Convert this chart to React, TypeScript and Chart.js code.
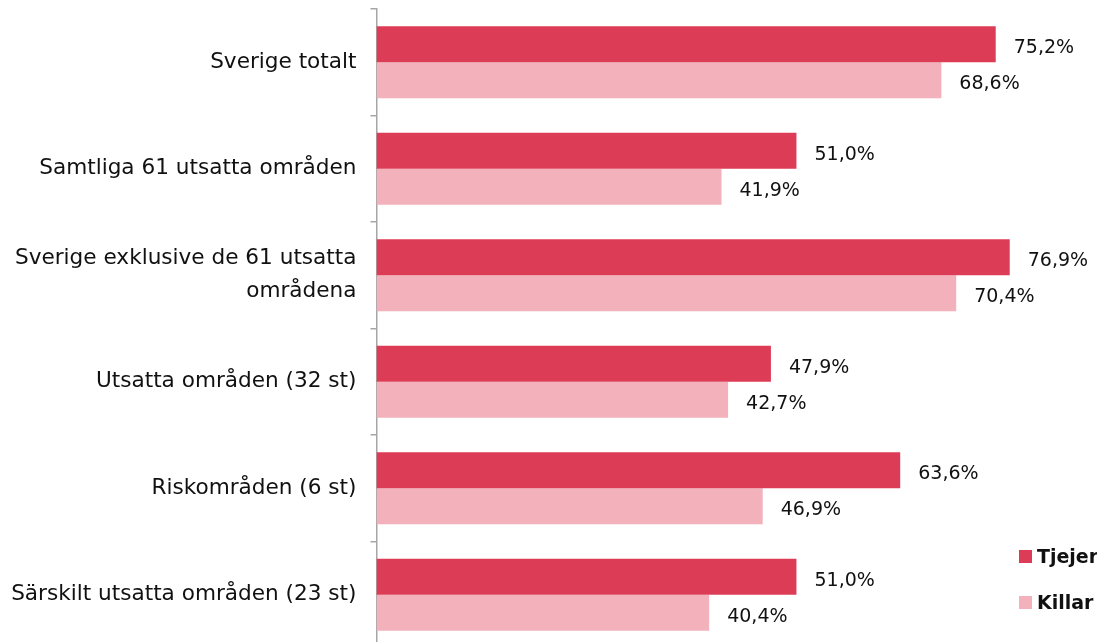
import React, { useEffect, useRef } from "react";
import { Chart, registerables } from "chart.js";

Chart.register(...registerables);

const categories: (string | string[])[] = [
  "Sverige totalt",
  "Samtliga 61 utsatta områden",
  ["Sverige exklusive de 61 utsatta", "områdena"],
  "Utsatta områden (32 st)",
  "Riskområden (6 st)",
  "Särskilt utsatta områden (23 st)",
];
const tjejer = [75.2, 51.0, 76.9, 47.9, 63.6, 51.0];
const killar = [68.6, 41.9, 70.4, 42.7, 46.9, 40.4];
const seriesNames = ["Tjejer", "Killar"];
const colors = ["#dc3c55", "#f2b1bb"];

const FONT = "'DejaVu Sans', sans-serif";

const fmt = (v: number) => v.toFixed(1).replace(".", ",") + "%";

const valueLabels = {
  id: "valueLabels",
  afterDatasetsDraw(chart: any) {
    const ctx = chart.ctx;
    ctx.save();
    ctx.font = `19px ${FONT}`;
    ctx.fillStyle = "#111";
    ctx.textAlign = "left";
    ctx.textBaseline = "middle";
    chart.data.datasets.forEach((ds: any, i: number) => {
      const meta = chart.getDatasetMeta(i);
      meta.data.forEach((bar: any, j: number) => {
        ctx.fillText(fmt(ds.data[j]), bar.x + 18, bar.y + 4);
      });
    });
    ctx.restore();
  },
};

const customLegend = {
  id: "customLegend",
  afterDraw(chart: any) {
    const ctx = chart.ctx;
    const w = chart.width;
    ctx.save();
    ctx.font = `bold 19px ${FONT}`;
    ctx.textAlign = "left";
    ctx.textBaseline = "middle";
    seriesNames.forEach((name, i) => {
      const y = 549 + i * 46;
      const x = w - 78;
      ctx.fillStyle = colors[i];
      ctx.fillRect(x, y - 7, 13, 13);
      ctx.fillStyle = "#111";
      ctx.fillText(name, x + 18, y + 1);
    });
    ctx.restore();
  },
};

export default function App() {
  const ref = useRef<HTMLCanvasElement>(null);
  useEffect(() => {
    if (!ref.current) return;
    const chart = new Chart(ref.current, {
      type: "bar",
      data: {
        labels: categories,
        datasets: [
          { label: seriesNames[0], data: tjejer, backgroundColor: colors[0] },
          { label: seriesNames[1], data: killar, backgroundColor: colors[1] },
        ],
      },
      options: {
        indexAxis: "y",
        animation: false,
        responsive: false,
        maintainAspectRatio: false,
        layout: { padding: { top: 1, bottom: 2, right: 0, left: 0 } },
        datasets: { bar: { categoryPercentage: 0.675, barPercentage: 1 } },
        plugins: { legend: { display: false }, tooltip: { enabled: false } },
        scales: {
          x: { display: false, min: 0, max: 87.5 },
          y: {
            afterFit(scale: any) {
              scale.width = 368.5;
              scale.paddingTop = 0;
              scale.paddingBottom = 0;
            },
            border: { display: true, color: "#a6a6a6", width: 1.5 },
            grid: {
              drawOnChartArea: false,
              drawTicks: true,
              tickLength: 6,
              color: "#a6a6a6",
              lineWidth: 1.5,
              offset: true,
            },
            ticks: {
              color: "#111",
              font: { family: FONT, size: 21.6, lineHeight: 1.53 },
              padding: 14,
            },
          },
        },
      },
      plugins: [valueLabels, customLegend],
    });
    return () => chart.destroy();
  }, []);
  return (
    <div style={{ width: 1089, height: 642 }}>
      <canvas ref={ref} width={1089} height={642} />
    </div>
  );
}
